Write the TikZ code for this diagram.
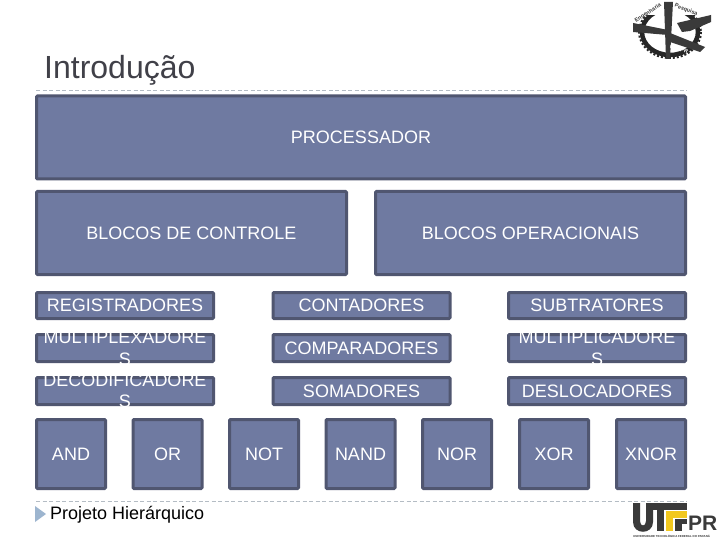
\documentclass[tikz,border=0pt]{standalone}
\usepackage{fontspec}
\setmainfont{Liberation Sans}
\definecolor{boxfill}{HTML}{6F7AA1}
\definecolor{boxline}{HTML}{505670}
\definecolor{titlecol}{HTML}{404048}
\definecolor{dashcol}{HTML}{B4BCC4}
\definecolor{tri}{HTML}{9DB5CF}
\definecolor{logod}{HTML}{3A3A3A}
\definecolor{logoy}{HTML}{F2C81E}
\tikzset{
 x=1pt,y=-1pt,
 box/.style={draw=boxline,fill=boxfill,line width=3pt,rounded corners=1pt,inner sep=0pt,outer sep=0pt,text=white,align=center,font=\fontsize{18}{21}\selectfont,text depth=0pt},
 bw/.style 2 args={minimum width=#1-3pt,minimum height=#2-3pt},
 rule/.style={draw=dashcol,line width=0.8pt,dash pattern=on 4pt off 2.5pt},
 overtext/.style={text=white,inner sep=0pt,align=center,font=\fontsize{18}{21.5}\selectfont},
 logotext/.style={inner sep=0pt,text=logod,font=\fontsize{5.5}{5.5}\selectfont\bfseries},
}
\begin{document}
\begin{tikzpicture}
\useasboundingbox[fill=white] (0,0) rectangle (720,540);
% title and rules
\node[anchor=base west,inner sep=0pt,text=titlecol,font=\fontsize{32}{36}\selectfont] (title) at (44,79) {Introdução};
\coordinate (r1a) at (36,90); \coordinate (r1b) at (687,90);
\coordinate (r2a) at (36,501); \coordinate (r2b) at (687,501);
\draw[rule] (r1a) -- (r1b);
\draw[rule] (r2a) -- (r2b);
% large blocks
\node[box,bw={652pt}{86pt}] (proc) at (361,137.5) {PROCESSADOR};
\node[box,bw={313pt}{86pt}] (ctrl) at (191.5,233) {BLOCOS DE CONTROLE};
\node[box,bw={313pt}{86pt}] (oper) at (530.5,233) {BLOCOS OPERACIONAIS};
% middle rows
\node[box,bw={180pt}{29pt}] (reg) at (125,305.5) {REGISTRADORES};
\node[box,bw={180pt}{30pt}] (mux) at (125,348) {};
\node[box,bw={180pt}{30pt}] (dec) at (125,391) {};
\node[box,bw={180pt}{29pt}] (cont) at (361.5,305.5) {CONTADORES};
\node[box,bw={180pt}{30pt}] (comp) at (361.5,348) {COMPARADORES};
\node[box,bw={180pt}{30pt}] (soma) at (361.5,391) {SOMADORES};
\node[box,bw={180pt}{29pt}] (sub) at (597,305.5) {SUBTRATORES};
\node[box,bw={180pt}{30pt}] (mul) at (597,348) {};
\node[box,bw={180pt}{30pt}] (des) at (597,391) {DESLOCADORES};
\node[overtext] (muxt) at (125,348.5) {MULTIPLEXADORE\\S};
\node[overtext] (dect) at (125,391) {DECODIFICADORE\\S};
\node[overtext] (mult) at (597,348.5) {MULTIPLICADORE\\S};
% gates
\node[box,bw={72pt}{72pt}] (and) at (71,454) {AND};
\node[box,bw={72pt}{72pt}] (or) at (167.5,454) {OR};
\node[box,bw={72pt}{72pt}] (not) at (264,454) {NOT};
\node[box,bw={72pt}{72pt}] (nand) at (360.5,454) {NAND};
\node[box,bw={72pt}{72pt}] (nor) at (457,454) {NOR};
\node[box,bw={72pt}{72pt}] (xor) at (554,454) {XOR};
\node[box,bw={72pt}{72pt}] (xnor) at (651,454) {XNOR};
% bullet
\fill[tri] (35,506) -- (46,514) -- (35,522) -- cycle;
\node[anchor=base west,inner sep=0pt,text=black,font=\fontsize{18}{22}\selectfont] (proj) at (50,519) {Projeto Hierárquico};
% top-right emblem
\draw[black!85,line width=4.5pt] (670,32) ellipse (28 and 23);
\draw[black!85,line width=2pt,dash pattern=on 2pt off 2pt] (670,32) ellipse (31 and 26);
\fill[white] (640,0) rectangle (702,15);
\fill[logod] (664,2) -- (673,2) -- (670,59) -- (666,59) -- cycle;
\fill[logod] (633,23) -- (668,30) -- (668,35) -- (633,32) -- cycle;
\fill[logod] (670,33) -- (705,47) -- (700,52) -- (670,42) -- cycle;
\fill[logod] (677,23) -- (711,15) -- (711,22) -- (690,31) -- (682,32) -- cycle;
\node[logotext,rotate=32] (lg1) at (648,13) {Engenharia};
\node[logotext,rotate=-22] (lg2) at (686,10) {Pesquisa};
\node[logotext,rotate=-15,text=white] (lg3) at (679,49) {UTFPR};
% bottom-right logo
\fill[logod] (633,503) -- (640,503) -- (640,521) .. controls (640,527) and (646,527) .. (646,521) -- (646,503) -- (653,503) -- (653,522) .. controls (653,535) and (633,535) .. (633,522) -- cycle;
\fill[logod] (646,503) rectangle (687,510);
\fill[logod] (657,503) rectangle (664,531);
\fill[logoy] (666,511) rectangle (687,518);
\fill[logoy] (666,511) rectangle (673,531);
\fill[logod] (675,519) rectangle (687,524);
\fill[logod] (675,519) rectangle (682,531);
\node[anchor=base west,inner sep=0pt,text=logod,font=\fontsize{21}{21}\selectfont\bfseries] (pr) at (688,530.5) {PR};
\node[anchor=north west,inner sep=0pt,text=logod,font=\fontsize{2.9}{3}\selectfont\bfseries] (un) at (633,534.5) {UNIVERSIDADE TECNOLÓGICA FEDERAL DO PARANÁ};
\end{tikzpicture}
\end{document}
